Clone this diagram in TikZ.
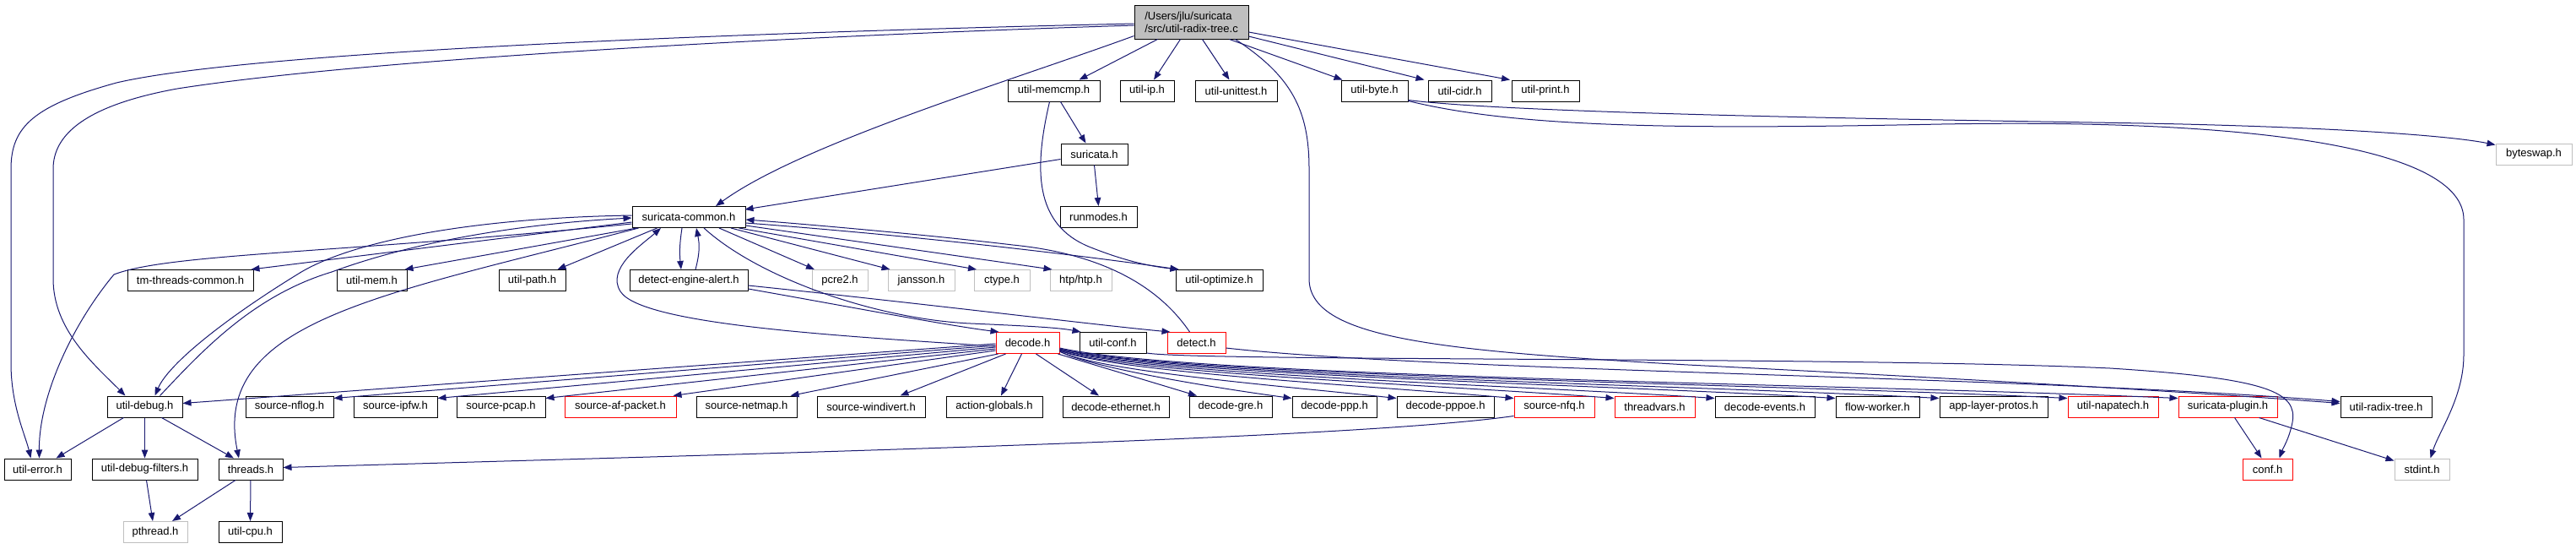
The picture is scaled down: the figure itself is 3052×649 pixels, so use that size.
\documentclass[tikz,border=0pt]{standalone}
\usepackage{fontspec}
\setmainfont{Liberation Sans}
\usetikzlibrary{arrows.meta}
\definecolor{edgeblue}{HTML}{191970}
\definecolor{grayb}{HTML}{BFBFBF}
\definecolor{redb}{HTML}{FF0000}
\tikzset{
  nb/.style={draw=black, line width=1pt, fill=white, minimum height=25pt, inner sep=0pt, font=\fontsize{13}{15}\selectfont, text=black},
  nred/.style={nb, draw=redb},
  ngray/.style={nb, draw=grayb},
  e/.style={draw=edgeblue, line width=1pt, -{Triangle[length=10pt,width=7.5pt]}}
}
\begin{document}
\begin{tikzpicture}[x=1pt,y=-1pt]
\useasboundingbox (0,0) rectangle (3052,649);
% row 0
\node[nb, fill=grayb, minimum width=135pt, minimum height=40pt, align=left] (root) at (1411.5,26) {/Users/jlu/suricata\\/src/util-radix-tree.c};
% row 1
\node[nb, minimum width=109pt] (memcmp) at (1248.5,107.5) {util-memcmp.h};
\node[nb, minimum width=64pt] (ip) at (1359,107.5) {util-ip.h};
\node[nb, minimum width=97pt] (unittest) at (1464.5,107.5) {util-unittest.h};
\node[nb, minimum width=79pt] (byte) at (1628.5,107.5) {util-byte.h};
\node[nb, minimum width=75pt] (cidr) at (1729.5,107.5) {util-cidr.h};
\node[nb, minimum width=80pt] (print) at (1831,107.5) {util-print.h};
% row 2
\node[nb, minimum width=79pt] (suricata) at (1296.5,182.5) {suricata.h};
\node[ngray, minimum width=90pt] (byteswap) at (3002,182.5) {byteswap.h};
% row 3
\node[nb, minimum width=134pt] (common) at (816,257) {suricata-common.h};
\node[nb, minimum width=91pt] (runmodes) at (1301.5,257) {runmodes.h};
% row 4
\node[nb, minimum width=149pt] (tmthreads) at (225.5,332) {tm-threads-common.h};
\node[nb, minimum width=83pt] (utilmem) at (440.5,332) {util-mem.h};
\node[nb, minimum width=79pt] (utilpath) at (630.5,332) {util-path.h};
\node[nb, minimum width=140pt] (dea) at (816,332) {detect-engine-alert.h};
\node[ngray, minimum width=66pt] (pcre) at (995,332) {pcre2.h};
\node[ngray, minimum width=79pt] (jansson) at (1091.5,332) {jansson.h};
\node[ngray, minimum width=66pt] (ctype) at (1187,332) {ctype.h};
\node[ngray, minimum width=73pt] (htp) at (1280.5,332) {htp/htp.h};
\node[nb, minimum width=103pt] (optimize) at (1444.5,332) {util-optimize.h};
% row 5
\node[nred, minimum width=75pt] (decode) at (1217.5,406) {decode.h};
\node[nb, minimum width=79pt] (utilconf) at (1318.5,406) {util-conf.h};
\node[nred, minimum width=69pt] (detect) at (1417.5,406) {detect.h};
% row 6
\node[nb, minimum width=89pt] (utildebug) at (171.5,481.5) {util-debug.h};
\node[nb, minimum width=104pt] (nflog) at (343,481.5) {source-nflog.h};
\node[nb, minimum width=99pt] (ipfw) at (468.5,481.5) {source-ipfw.h};
\node[nb, minimum width=105pt] (pcap) at (593.5,481.5) {source-pcap.h};
\node[nred, minimum width=132pt] (afpacket) at (735,481.5) {source-af-packet.h};
\node[nb, minimum width=119pt] (netmap) at (884.5,481.5) {source-netmap.h};
\node[nb, minimum width=128pt] (windivert) at (1032,481.5) {source-windivert.h};
\node[nb, minimum width=114pt] (actglob) at (1178,481.5) {action-globals.h};
\node[nb, minimum width=126pt] (ethernet) at (1322,481.5) {decode-ethernet.h};
\node[nb, minimum width=98pt] (gre) at (1458,481.5) {decode-gre.h};
\node[nb, minimum width=100pt] (ppp) at (1581,481.5) {decode-ppp.h};
\node[nb, minimum width=115pt] (pppoe) at (1712.5,481.5) {decode-pppoe.h};
\node[nred, minimum width=95pt] (nfq) at (1841.5,481.5) {source-nfq.h};
\node[nred, minimum width=95pt] (threadvars) at (1960.5,481.5) {threadvars.h};
\node[nb, minimum width=118pt] (events) at (2091,481.5) {decode-events.h};
\node[nb, minimum width=99pt] (flowworker) at (2224.5,481.5) {flow-worker.h};
\node[nb, minimum width=128pt] (applayer) at (2362,481.5) {app-layer-protos.h};
\node[nred, minimum width=107pt] (napatech) at (2503.5,481.5) {util-napatech.h};
\node[nred, minimum width=117pt] (plugin) at (2639.5,481.5) {suricata-plugin.h};
\node[nb, minimum width=108pt] (radixtree) at (2827,481.5) {util-radix-tree.h};
% row 7
\node[nb, minimum width=79pt] (utilerror) at (44.5,555.5) {util-error.h};
\node[nb, minimum width=125pt] (debugfilters) at (171.5,555.5) {util-debug-filters.h};
\node[nb, minimum width=76pt] (threads) at (297,555.5) {threads.h};
\node[nred, minimum width=59pt] (conf) at (2686.5,555.5) {conf.h};
\node[ngray, minimum width=65pt] (stdint) at (2869.5,555.5) {stdint.h};
% row 8
\node[ngray, minimum width=76pt] (pthread) at (184,630) {pthread.h};
\node[nb, minimum width=75pt] (utilcpu) at (296.5,630) {util-cpu.h};

% ---- edges from root
\draw[e] ([yshift=-2]root.west) .. controls (900,38) and (300,60) .. (138,98) .. controls (40,125) and (13,150) .. (13,200) -- (13,430) .. controls (13,480) and (30,515) .. ([xshift=-8]utilerror.north);
\draw[e] ([yshift=-4]root.west) .. controls (900,44) and (420,72) .. (210,105) .. controls (100,125) and (63,160) .. (63,200) -- (63,330) .. controls (63,390) and (110,430) .. ([xshift=-23]utildebug.north);
\draw[e] ([yshift=4]root.south west) .. controls (1200,95) and (950,170) .. ([xshift=32]common.north);
\draw[e] ([xshift=-40]root.south) -- ([xshift=30]memcmp.north);
\draw[e] ([xshift=-13]root.south) -- ([xshift=8]ip.north);
\draw[e] ([xshift=13]root.south) -- ([xshift=-8]unittest.north);
\draw[e] ([xshift=45]root.south) -- ([xshift=-38]byte.north);
\draw[e] ([yshift=-17]root.east) -- ([xshift=-42]cidr.north);
\draw[e] ([yshift=-12]root.east) -- ([xshift=-42]print.north);
\draw[e] ([xshift=52]root.south) .. controls (1530,90) and (1551,130) .. (1551,200) -- (1551,330) .. controls (1551,400) and (1700,415) .. (2000,432) .. controls (2400,452) and (2650,468) .. ([yshift=4]radixtree.west);
% ---- memcmp, suricata
\draw[e] ([xshift=8]memcmp.south) -- ([xshift=-10]suricata.north);
\draw[e] ([xshift=-5]memcmp.south) .. controls (1225,200) and (1225,265) .. (1290,292) .. controls (1330,308) and (1360,315) .. ([xshift=-48]optimize.north);
\draw[e] ([yshift=-6]suricata.west) -- ([xshift=-1,yshift=9]common.east);
\draw[e] (suricata.south) -- (runmodes.north);
% ---- suricata-common
\draw[e] ([yshift=-6]common.west) -- ([xshift=-3]tmthreads.north east);
\draw[e] ([xshift=6]common.south west) -- ([xshift=-3]utilmem.north east);
\draw[e] ([xshift=30]common.south west) -- ([xshift=-10]utilpath.north east);
\draw[e] ([yshift=-8]common.west) .. controls (400,300) and (200,300) .. (135,325) .. controls (85,385) and (46,470) .. ([xshift=2]utilerror.north);
\draw[e] ([yshift=2]common.west) .. controls (560,258) and (420,285) .. (357,322) .. controls (270,375) and (200,430) .. ([xshift=12]utildebug.north);
\draw[e] ([xshift=18]utildebug.north) .. controls (240,415) and (300,350) .. (393,322) .. controls (480,290) and (600,266) .. ([yshift=-1]common.west);
\draw[e] ([xshift=-8]common.south) .. controls (805,290) and (805,300) .. ([xshift=-9]dea.north);
\draw[e] ([xshift=8]dea.north) .. controls (829,300) and (829,290) .. ([xshift=9]common.south);
\draw[e] ([xshift=36]common.south) -- ([xshift=-30]pcre.north);
\draw[e] ([xshift=50]common.south) -- ([xshift=-37]jansson.north);
\draw[e] ([xshift=-8]common.south east) -- ([xshift=-30]ctype.north);
\draw[e] ([yshift=-10]common.east) -- ([xshift=-34]htp.north);
\draw[e] ([yshift=-7]common.east) .. controls (1100,280) and (1300,305) .. ([xshift=-48]optimize.north);
\draw[e] ([xshift=8]common.south west) .. controls (450,350) and (250,380) .. ([xshift=-14]threads.north);
\draw[e] ([xshift=18]common.south) .. controls (900,330) and (1040,378) .. (1150,383) .. controls (1220,386) and (1255,388) .. ([xshift=2]utilconf.north west);
% ---- detect-engine-alert
\draw[e] ([yshift=-10]dea.east) .. controls (1000,362) and (1120,385) .. ([xshift=4]decode.north west);
\draw[e] ([yshift=-6]dea.east) .. controls (1100,360) and (1300,385) .. ([xshift=4]detect.north west);
% ---- back edges to suricata-common
\draw[e] ([yshift=-4]decode.west) .. controls (1000,398) and (760,385) .. (735,345) .. controls (718,318) and (760,290) .. ([xshift=-33]common.south);
\draw[e] ([xshift=-8]detect.north) .. controls (1370,335) and (1300,300) .. (1200,290) .. controls (1100,278) and (950,265) .. ([yshift=-3]common.east);
% ---- util-conf, detect to the right
\draw[e] ([yshift=-12]utilconf.east) .. controls (1420,428) and (2200,422) .. (2500,436) .. controls (2690,448) and (2722,465) .. (2716,500) .. controls (2712,520) and (2705,530) .. ([xshift=14]conf.north);
\draw[e] ([yshift=-6]detect.east) .. controls (1700,440) and (2400,445) .. ([yshift=6]radixtree.west);
% ---- decode to the left
\draw[e] ([yshift=-1]decode.west) -- ([yshift=4]utildebug.east);
\draw[e] ([yshift=-3]decode.west) -- ([yshift=-3]nflog.north east);
\draw[e] ([yshift=-5]decode.west) -- ([yshift=-3]ipfw.north east);
\draw[e] ([yshift=-7]decode.west) -- ([yshift=-3]pcap.north east);
\draw[e] ([yshift=-9]decode.west) -- ([xshift=-4]afpacket.north east);
\draw[e] ([xshift=3]decode.south west) -- ([xshift=-8]netmap.north east);
\draw[e] ([xshift=12]decode.south west) -- ([xshift=-30]windivert.north east);
\draw[e] ([xshift=-7]decode.south) -- ([xshift=8]actglob.north);
\draw[e] ([xshift=10]decode.south) -- ([xshift=-20]ethernet.north);
\draw[e] ([xshift=-2]decode.south east) -- ([xshift=-40]gre.north);
% ---- decode to the right
\draw[e] ([yshift=3]decode.south east) .. controls (1290,435) and (1444,460) .. ([yshift=-3]ppp.north west);
\draw[e] ([yshift=3]decode.south east) .. controls (1302,440) and (1530,458) .. ([yshift=-3]pppoe.north west);
\draw[e] ([yshift=4]decode.south east) .. controls (1320,441) and (1627,457) .. ([yshift=-3]nfq.north west);
\draw[e] ([yshift=4]decode.south east) .. controls (1333,442) and (1711,456) .. ([yshift=-3]threadvars.north west);
\draw[e] ([yshift=5]decode.south east) .. controls (1347,443) and (1794,456) .. ([yshift=-3]events.north west);
\draw[e] ([yshift=5]decode.south east) .. controls (1365,444) and (1894,455) .. ([yshift=-3]flowworker.north west);
\draw[e] ([yshift=6]decode.south east) .. controls (1380,445) and (1981,455) .. ([yshift=-3]applayer.north west);
\draw[e] ([yshift=6]decode.south east) .. controls (1398,446) and (2087,454) .. ([yshift=-3]napatech.north west);
\draw[e] ([yshift=7]decode.south east) .. controls (1413,447) and (2178,454) .. ([yshift=-3]plugin.north west);
% ---- lower part
\draw[e] ([yshift=2]nfq.south west) .. controls (1600,520) and (900,537) .. ([yshift=2]threads.east);
\draw[e] ([xshift=-25]utildebug.south) -- ([xshift=22]utilerror.north);
\draw[e] (utildebug.south) -- (debugfilters.north);
\draw[e] ([xshift=20]utildebug.south) -- ([xshift=-20]threads.north);
\draw[e] ([xshift=2]debugfilters.south) -- ([xshift=-3]pthread.north);
\draw[e] ([xshift=-18]threads.south) -- ([xshift=20]pthread.north);
\draw[e] (threads.south) -- (utilcpu.north);
% ---- util-byte
\draw[e] ([yshift=2]byte.south east) .. controls (1800,135) and (2300,142) .. (2540,146) .. controls (2750,150) and (2900,160) .. ([yshift=-2]byteswap.north west);
\draw[e] ([yshift=1]byte.south east) .. controls (1800,152) and (2000,153) .. (2300,147) .. controls (2700,140) and (2919,180) .. (2919,260) -- (2919,420) .. controls (2919,470) and (2890,510) .. ([xshift=10]stdint.north);
% ---- suricata-plugin
\draw[e] ([xshift=8]plugin.south) -- ([xshift=-7]conf.north);
\draw[e] ([xshift=37]plugin.south) -- ([yshift=-3]stdint.north west);
\end{tikzpicture}
\end{document}
